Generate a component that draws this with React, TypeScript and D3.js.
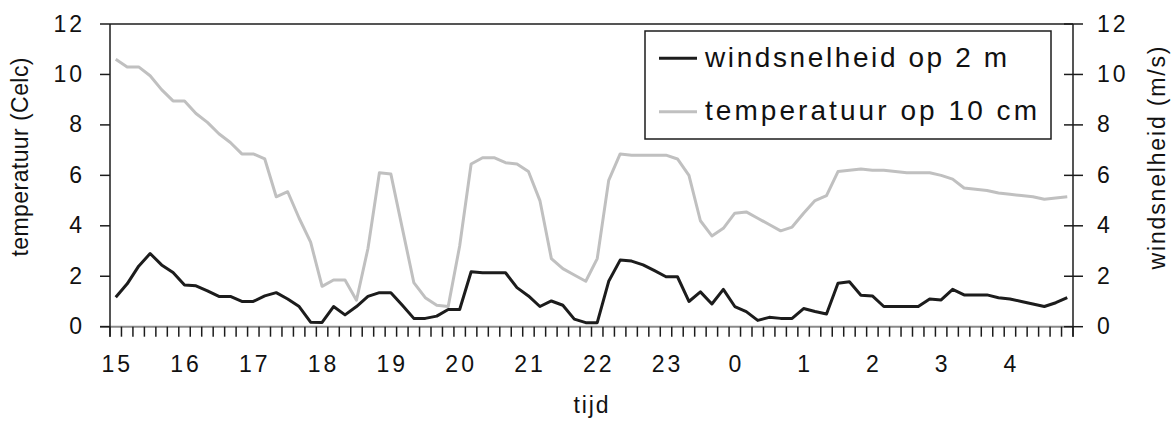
import React from 'react';
import * as d3 from 'd3';

const hourLabels = ['15', '16', '17', '18', '19', '20', '21', '22', '23', '0', '1', '2', '3', '4'];
const minuteSteps = ['00', '10', '20', '30', '40', '50'];
const yTicks = [0, 2, 4, 6, 8, 10, 12];

// bodemtemperatuur op 10 cm, elke 10 minuten
const soilTemp = [
  10.6, 10.3, 10.3, 9.95, 9.4, 8.95, 8.95, 8.45, 8.1, 7.65, 7.3, 6.85,
  6.85, 6.65, 5.15, 5.35, 4.3, 3.35, 1.6, 1.85, 1.85, 1.05, 3.1, 6.1,
  6.05, 3.9, 1.75, 1.15, 0.85, 0.8, 3.2, 6.45, 6.7, 6.7, 6.5, 6.45,
  6.15, 5.0, 2.7, 2.3, 2.05, 1.8, 2.7, 5.8, 6.85, 6.8, 6.8, 6.8,
  6.8, 6.65, 6.0, 4.2, 3.6, 3.9, 4.5, 4.55, 4.3, 4.05, 3.8, 3.95,
  4.5, 5.0, 5.2, 6.15, 6.2, 6.25, 6.2, 6.2, 6.15, 6.1, 6.1, 6.1,
  6.0, 5.85, 5.5, 5.45, 5.4, 5.3, 5.25, 5.2, 5.15, 5.05, 5.1, 5.15,
];

// windsnelheid op 2 m
const windSpeed = [
  1.17, 1.7, 2.4, 2.9, 2.45, 2.15, 1.65, 1.62, 1.42, 1.2, 1.2, 1.0,
  1.0, 1.22, 1.35, 1.1, 0.8, 0.18, 0.17, 0.8, 0.47, 0.8, 1.2, 1.35,
  1.35, 0.85, 0.33, 0.33, 0.42, 0.68, 0.68, 2.18, 2.14, 2.14, 2.14, 1.55,
  1.22, 0.8, 1.02, 0.85, 0.3, 0.16, 0.16, 1.8, 2.64, 2.6, 2.45, 2.22,
  1.98, 1.98, 1.0, 1.38, 0.9, 1.48, 0.8, 0.6, 0.25, 0.37, 0.33, 0.33,
  0.72, 0.6, 0.5, 1.72, 1.78, 1.25, 1.22, 0.8, 0.8, 0.8, 0.8, 1.1,
  1.06, 1.48, 1.26, 1.26, 1.26, 1.15, 1.1, 1.0, 0.9, 0.8, 0.95, 1.15,
];

const categories = hourLabels.flatMap(h => minuteSteps.map(m => `${h}:${m}`));

const W = 1176;
const H = 421;
const left = 110;
const right = 1073;
const top = 24;
const bottom = 326.7;
const font = '"Liberation Sans", Arial, sans-serif';
const black = '#1c1c1c';
const grey = '#c0c0c0';

const x = d3.scaleBand<string>().domain(categories).range([left, right]);
const yLeft = d3.scaleLinear().domain([0, 12]).range([bottom, top]);
const yRight = d3.scaleLinear().domain([0, 12]).range([bottom, top]);
const cx = (c: string) => (x(c) as number) + x.bandwidth() / 2;

const tempLine = d3
  .line<number>()
  .x((d, i) => cx(categories[i]))
  .y(d => yLeft(d));
const windLine = d3
  .line<number>()
  .x((d, i) => cx(categories[i]))
  .y(d => yRight(d));

export default function App() {
  const boundaries = categories.map(c => x(c) as number).concat([right]);
  return (
    <svg
      width={W}
      height={H}
      style={{ position: 'absolute', left: 0, top: 0, background: '#fff' }}
      fontFamily={font}
    >
      {/* series */}
      <path d={tempLine(soilTemp) || ''} fill="none" stroke={grey} strokeWidth={3} strokeLinejoin="round" />
      <path d={windLine(windSpeed) || ''} fill="none" stroke={black} strokeWidth={3} strokeLinejoin="round" />

      {/* x axis */}
      <line x1={100} x2={right} y1={bottom} y2={bottom} stroke="#8a8a8a" strokeWidth={2} />
      {boundaries.map((b, i) => (
        <line key={i} x1={b} x2={b} y1={bottom} y2={bottom + 10} stroke={black} strokeWidth={1.5} />
      ))}
      {hourLabels.map(h => (
        <text key={h} x={cx(`${h}:00`) + 1.5} y={371.5} fontSize={23} letterSpacing={3} textAnchor="middle" fill="#111">
          {h}
        </text>
      ))}
      <text x={591} y={413} fontSize={23} textAnchor="middle" textLength={35} lengthAdjust="spacing" fill="#111">
        tijd
      </text>

      {/* top border */}
      <line x1={left} x2={right} y1={top} y2={top} stroke={black} strokeWidth={1.5} />

      {/* left axis */}
      <line x1={left} x2={left} y1={top} y2={bottom + 10} stroke={black} strokeWidth={1.5} />
      {yTicks.map(t => (
        <g key={t}>
          <line x1={100} x2={left} y1={yLeft(t)} y2={yLeft(t)} stroke={black} strokeWidth={1.5} />
          <text x={85} y={yLeft(t) + 7.5} fontSize={23} letterSpacing={3} textAnchor="end" fill="#111">
            {t}
          </text>
        </g>
      ))}
      <text
        transform="translate(28,157) rotate(-90)"
        fontSize={23}
        textAnchor="middle"
        textLength={199}
        lengthAdjust="spacing"
        fill="#111"
      >
        temperatuur (Celc)
      </text>

      {/* right axis */}
      <line x1={right} x2={right} y1={top} y2={bottom + 10} stroke={black} strokeWidth={1.5} />
      {yTicks.map(t => (
        <g key={t}>
          <line x1={right - 9} x2={right + 10} y1={yRight(t)} y2={yRight(t)} stroke={black} strokeWidth={1.5} />
          <text x={1097} y={yRight(t) + 7.5} fontSize={23} letterSpacing={3} fill="#111">
            {t}
          </text>
        </g>
      ))}
      <text
        transform="translate(1165,158) rotate(-90)"
        fontSize={23}
        textAnchor="middle"
        textLength={223}
        lengthAdjust="spacing"
        fill="#111"
      >
        windsnelheid (m/s)
      </text>

      {/* legend */}
      <rect x={645} y={31} width={406} height={108} fill="#fff" stroke={black} strokeWidth={1.5} />
      <line x1={659} x2={697} y1={58.3} y2={58.3} stroke={black} strokeWidth={3} />
      <text x={705} y={66.7} fontSize={28} textLength={302} lengthAdjust="spacing" fill="#111">
        windsnelheid op 2 m
      </text>
      <line x1={659} x2={697} y1={111.7} y2={111.7} stroke={grey} strokeWidth={3} />
      <text x={705} y={120} fontSize={28} textLength={332} lengthAdjust="spacing" fill="#111">
        temperatuur op 10 cm
      </text>
    </svg>
  );
}
